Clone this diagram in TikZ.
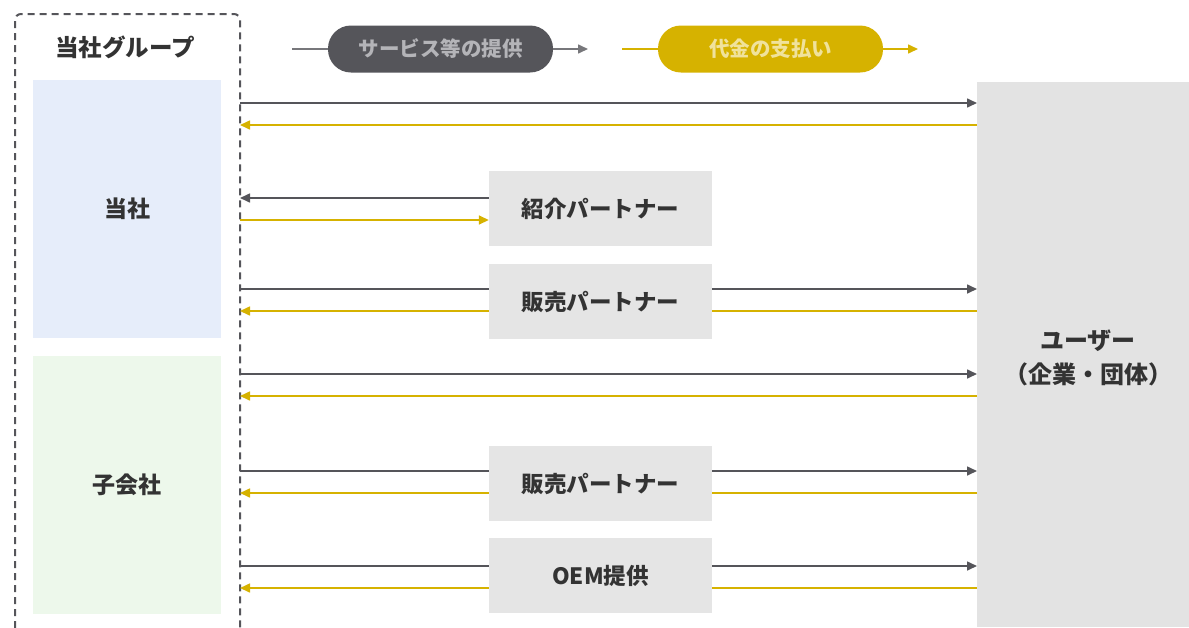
\documentclass[tikz,border=0pt]{standalone}
\usepackage{fontspec}
\setmainfont{Noto Sans CJK JP}
\usetikzlibrary{arrows.meta}
\definecolor{darkg}{HTML}{55555A}
\definecolor{gold}{HTML}{D6B200}
\definecolor{bluef}{HTML}{E6EDFA}
\definecolor{greenf}{HTML}{EDF8EB}
\definecolor{boxf}{HTML}{E5E5E5}
\definecolor{userf}{HTML}{E3E3E3}
\definecolor{txt}{HTML}{333333}
\definecolor{lgtxt}{HTML}{B4B4B8}
\definecolor{lytxt}{HTML}{F0E29C}
\tikzset{
  gline/.style={draw=darkg, line width=1.6pt},
  yline/.style={draw=gold, line width=1.6pt},
  tip/.style={-{Triangle[length=10pt,width=9pt]}},
  partner/.style={fill=boxf, draw=none, minimum width=223pt, minimum height=75pt, inner sep=0pt, font=\fontsize{22.5}{26}\selectfont\bfseries, text=txt},
  company/.style={draw=none, minimum width=188pt, minimum height=258pt, inner sep=0pt, font=\fontsize{23}{26}\selectfont\bfseries, text=txt},
  pill/.style={rounded corners=23pt, minimum width=225pt, minimum height=47pt, inner sep=0pt, font=\fontsize{20.5}{24}\selectfont\bfseries},
}
\begin{document}
\begin{tikzpicture}[x=1pt,y=-1pt]
\useasboundingbox (0,0) rectangle (1189,627);
% group box (dashed, open at bottom)
\draw[darkg, line width=2pt, dash pattern=on 7pt off 5pt, rounded corners=6pt]
  (15,640) -- (15,14) -- (240,14) -- (240,640);
\node[font=\fontsize{23.5}{26}\selectfont\bfseries, text=txt] (grp) at (125,47) {当社グループ};
\node[company, fill=bluef] (tosha) at (127,209) {当社};
\node[company, fill=greenf] (kogaisha) at (127,485) {子会社};
% legend
\node[pill, fill=darkg, text=lgtxt] (lg1) at (440.5,49) {サービス等の提供};
\coordinate (lg1a) at (292,49);
\coordinate (lg1b) at (588,49);
\draw[gline, draw=darkg!80] (lg1a) -- (lg1.west);
\draw[gline, tip, draw=darkg!80] (lg1.east) -- (lg1b);
\node[pill, fill=gold, text=lytxt] (lg2) at (770.5,49) {代金の支払い};
\coordinate (lg2a) at (622,49);
\coordinate (lg2b) at (918,49);
\draw[yline] (lg2a) -- (lg2.west);
\draw[yline, tip] (lg2.east) -- (lg2b);
% user
\node[fill=userf, minimum width=212pt, minimum height=545pt, inner sep=0pt, anchor=north west] (user) at (977,82) {};
\node[font=\fontsize{24}{34}\selectfont\bfseries, text=txt, align=center] (ulab) at (1088,358) {ユーザー\\（企業・団体）};
% left edge coordinates
\foreach \n/\y in {a/103,b/125,c/198,d/220,e/289,f/311,g/374,h/396,i/471,j/493,k/566,l/588}{
  \coordinate (L\n) at (240,\y);
}
% arrows (drawn first, partner boxes cover them)
\draw[gline, tip] (La) -- (La -| user.west);
\draw[yline, tip] (Lb -| user.west) -- (Lb);
\draw[gline, tip] (Le) -- (Le -| user.west);
\draw[yline, tip] (Lf -| user.west) -- (Lf);
\draw[gline, tip] (Lg) -- (Lg -| user.west);
\draw[yline, tip] (Lh -| user.west) -- (Lh);
\draw[gline, tip] (Li) -- (Li -| user.west);
\draw[yline, tip] (Lj -| user.west) -- (Lj);
\draw[gline, tip] (Lk) -- (Lk -| user.west);
\draw[yline, tip] (Ll -| user.west) -- (Ll);
% partners
\node[partner] (intro) at (600.5,208.5) {紹介パートナー};
\node[partner] (sales1) at (600.5,301.5) {販売パートナー};
\node[partner] (sales2) at (600.5,483.5) {販売パートナー};
\node[partner] (oem) at (600.5,575.5) {OEM提供};
\draw[gline, tip] (Lc -| intro.west) -- (Lc);
\draw[yline, tip] (Ld) -- (Ld -| intro.west);
\end{tikzpicture}
\end{document}
